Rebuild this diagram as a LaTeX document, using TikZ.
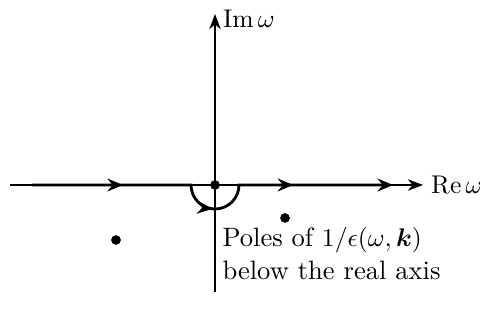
\documentclass[tikz,border=0pt]{standalone}
\usepackage{amsmath,amssymb}
\usetikzlibrary{positioning,arrows.meta,decorations.markings}

\begin{document}
\begin{tikzpicture}[x=0.01375cm, y=0.01375cm,
    axis/.style={-{Stealth[length=6pt,width=4.5pt]}, line width=0.4pt},
    contour/.style={line width=1.1pt, -{Stealth[length=6pt,width=5pt]},
        postaction={decorate},
        decoration={markings,
            mark=at position 0.234 with {\arrow{Stealth[length=6pt,width=5pt]}},
            mark=at position 0.5 with {\arrow{Stealth[length=6pt,width=5pt]}},
            mark=at position 0.743 with {\arrow{Stealth[length=6pt,width=5pt]}}}},
    pole/.style={circle, fill, inner sep=0pt, minimum size=3.8pt},
    lbl/.style={inner sep=0pt, align=left, font=\fontsize{10.4}{12.8}\selectfont}
]
    \useasboundingbox (-215,-137) rectangle (265,185);

    % axes
    \coordinate (xleft) at (-205,0);
    \coordinate (xright) at (208,0);
    \coordinate (ybot) at (0,-107);
    \coordinate (ytop) at (0,171);
    \draw[axis] (xleft) -- (xright);
    \draw[axis] (ybot) -- (ytop);
    \node[lbl, right=3pt of xright] (relbl) {$\operatorname{Re}\omega$};
    \node[lbl, right=3pt of ytop, yshift=-2pt] (imlbl) {$\operatorname{Im}\omega$};

    % contour along the real axis, round the pole at the origin
    \coordinate (cstart) at (-183,0);
    \coordinate (cleft) at (-24,0);
    \coordinate (cend) at (178,0);
    \draw[contour] (cstart) -- (cleft) arc (180:360:24) -- (cend);

    % poles
    \node[pole] (p0) at (0,0) {};
    \node[pole] (p1) at (70,-33) {};
    \node[pole] (p2) at (-99,-55) {};
    \node[lbl, anchor=north west] (poletxt) at (7,-42)
        {Poles of $1/\epsilon(\omega,\boldsymbol{k})$\\below the real axis};
\end{tikzpicture}
\end{document}
